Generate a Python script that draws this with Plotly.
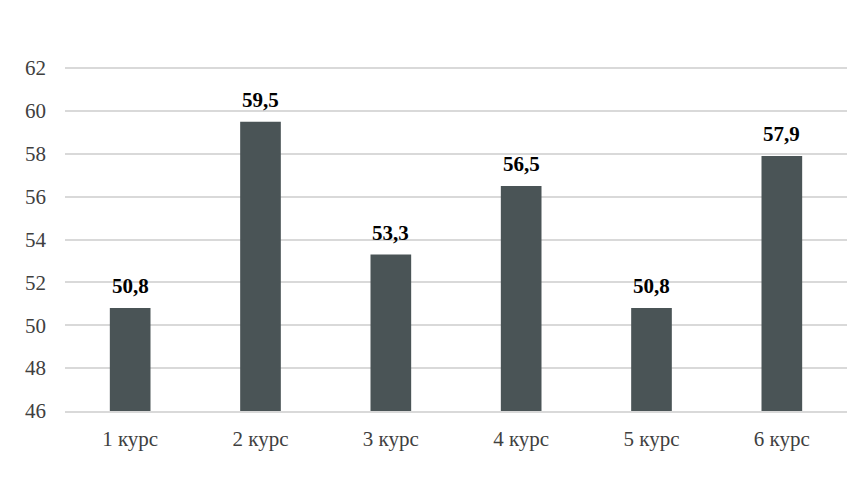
import plotly.graph_objects as go

categories = ["1 курс", "2 курс", "3 курс", "4 курс", "5 курс", "6 курс"]
values = [50.8, 59.5, 53.3, 56.5, 50.8, 57.9]
labels = ["50,8", "59,5", "53,3", "56,5", "50,8", "57,9"]
y_ticks = [46, 48, 50, 52, 54, 56, 58, 60, 62]
y_min = 46

FONT = "'Liberation Serif', 'Times New Roman', Times, serif"

fig = go.Figure(go.Bar(
    x=categories, y=[v - y_min for v in values], base=y_min,
    marker=dict(color="#4a5456", line=dict(width=0)),
    width=0.312,
    hoverinfo="skip",
))

for c, v, t in zip(categories, values, labels):
    fig.add_annotation(x=c, y=v, text="<b>" + t + "</b>", showarrow=False,
                       yanchor="bottom", yshift=8,
                       font=dict(family=FONT, size=21, color="#000000"))

fig.update_layout(
    width=853, height=495,
    margin=dict(l=65, r=6, t=67, b=84, pad=0),
    paper_bgcolor="white", plot_bgcolor="white",
    showlegend=False,
    font=dict(family=FONT, size=21, color="#404040"),
)
fig.update_yaxes(range=[46, 62.05], tickvals=y_ticks, ticktext=[str(t) for t in y_ticks],
                 showgrid=True, gridcolor="#d9d9d9", gridwidth=1.5, zeroline=False,
                 showline=False, ticks="", ticklabelstandoff=18, automargin=False,
                 tickfont=dict(family=FONT, size=21, color="#404040"))
fig.update_xaxes(showline=True, linecolor="#d9d9d9", linewidth=1.5, ticks="",
                 automargin=False, ticklabelstandoff=8,
                 tickfont=dict(family=FONT, size=21, color="#404040"))

fig.write_html("out.html", config={"displayModeBar": False},
               post_script="document.body.style.margin='0';")
